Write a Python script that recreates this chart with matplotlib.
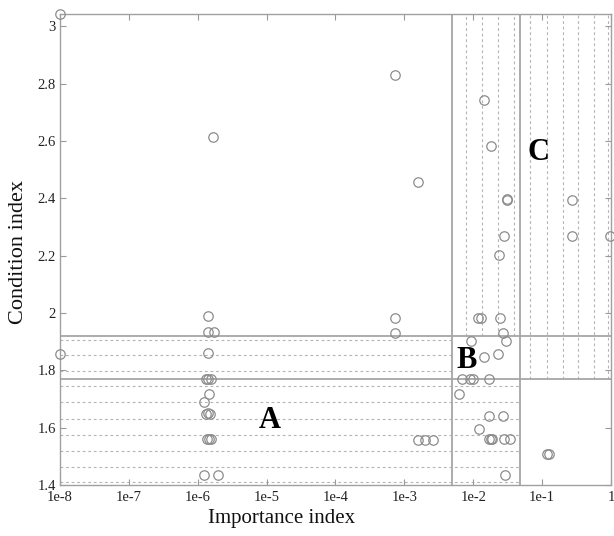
import numpy as np
import matplotlib
matplotlib.use('Agg')
import matplotlib.pyplot as plt

plt.rcParams['font.family'] = ['Liberation Serif', 'DejaVu Serif']

# data ------------------------------------------------------------------------------------------
importance = [1e-8, 1e-8, 1.65e-6,
              1.42e-6, 1.42e-6, 1.74e-6, 1.42e-6, 1.30e-6, 1.42e-6, 1.58e-6, 1.47e-6, 1.25e-6,
              1.33e-6, 1.42e-6, 1.50e-6, 1.36e-6, 1.47e-6, 1.55e-6, 1.25e-6, 1.99e-6,
              7.38e-4, 7.38e-4, 7.38e-4, 1.56e-3, 1.56e-3, 2.0e-3, 2.58e-3,
              0.01445, 0.0181, 0.0306, 0.0310, 0.0277, 0.0234, 0.272, 0.272, 0.966,
              0.01183, 0.01282, 0.0244, 0.0273, 0.0296, 0.00918, 0.0231, 0.01445,
              0.00679, 0.00897, 0.00982, 0.01694, 0.00626, 0.01694, 0.0273, 0.01225,
              0.01694, 0.0181, 0.0189, 0.0282, 0.0342, 0.0289, 0.1164, 0.127]
condition = [3.043, 1.858, 2.614,
             1.988, 1.933, 1.933, 1.862, 1.771, 1.771, 1.771, 1.719, 1.690,
             1.649, 1.652, 1.649, 1.562, 1.562, 1.562, 1.435, 1.435,
             2.830, 1.983, 1.932, 2.458, 1.557, 1.557, 1.557,
             2.744, 2.584, 2.396, 2.398, 2.267, 2.201, 2.396, 2.267, 2.267,
             1.983, 1.983, 1.983, 1.931, 1.901, 1.901, 1.858, 1.846,
             1.771, 1.771, 1.771, 1.771, 1.717, 1.641, 1.641, 1.595,
             1.559, 1.559, 1.559, 1.559, 1.559, 1.435, 1.508, 1.508]

# thresholds and hatch lines
imp_lo, imp_hi = 0.0049, 0.047
cond_lo, cond_hi = 1.77, 1.92
hatch_y_short = [1.907, 1.853, 1.798]                      # x from 1e-8 to imp_lo
hatch_y_long = [1.744, 1.688, 1.632, 1.576, 1.518, 1.464, 1.411]   # x from 1e-8 to imp_hi
hatch_x_short = [10**e for e in [-2.102, -1.875, -1.641, -1.413]]      # y from cond_hi up
hatch_x_long = [10**e for e in [-1.179, -0.936, -0.703, -0.475, -0.246, -0.038]]  # y from cond_lo up

xticks = [1e-8, 1e-7, 1e-6, 1e-5, 1e-4, 1e-3, 1e-2, 1e-1, 1]
xticklabels = ['1e-8', '1e-7', '1e-6', '1e-5', '1e-4', '1e-3', '1e-2', '1e-1', '1']
yticks = [1.4, 1.6, 1.8, 2.0, 2.2, 2.4, 2.6, 2.8, 3.0]
xmin, xmax = 1e-8, 1
ymin, ymax = 1.4, 3.043

# figure ----------------------------------------------------------------------------------------
fig = plt.figure(figsize=(6.14, 5.36), dpi=100)
ax = fig.add_axes([0.0977, 0.0951, 0.8974, 0.8787])
ax.set_xscale('log')
ax.set_xlim(xmin, xmax)
ax.set_ylim(ymin, ymax)

solid = dict(color='#a6a6a6', lw=1.3, zorder=2)
dash = dict(color='#b4b4b4', lw=0.8, ls=(0, (2.5, 2.5)), zorder=1)

for y in hatch_y_short:
    ax.plot([xmin, imp_lo], [y, y], **dash)
for y in hatch_y_long:
    ax.plot([xmin, imp_hi], [y, y], **dash)
for x in hatch_x_short:
    ax.plot([x, x], [cond_hi, ymax], **dash)
for x in hatch_x_long:
    ax.plot([x, x], [cond_lo, ymax], **dash)

ax.axhline(cond_lo, **solid)
ax.axhline(cond_hi, **solid)
ax.axvline(imp_lo, **solid)
ax.axvline(imp_hi, **solid)

ax.plot(importance, condition, 'o', ms=6.8, mfc='none', mec='#8c8c8c', mew=0.9,
        clip_on=False, zorder=3)

# region letters
ax.text(1.12e-5, 1.626, 'A', fontsize=22, fontweight='bold', ha='center', va='center')
ax.text(0.00803, 1.835, 'B', fontsize=22, fontweight='bold', ha='center', va='center')
ax.text(0.0881, 2.559, 'C', fontsize=22, fontweight='bold', ha='center', va='center')

# axes style
ax.set_xticks(xticks)
ax.set_xticklabels(xticklabels)
ax.xaxis.set_minor_locator(matplotlib.ticker.NullLocator())
ax.set_yticks(yticks)
ax.set_yticklabels(['%g' % v for v in yticks])
ax.tick_params(direction='in', length=4, width=0.8, color='#999999', top=True, right=True,
               labelsize=10.5, labelcolor='#222222')
ax.tick_params(axis='x', pad=4)
ax.tick_params(axis='y', pad=3)
for s in ax.spines.values():
    s.set_color('#a0a0a0')
    s.set_linewidth(1.0)

ax.set_xlabel('Importance index', fontsize=15, color='#111111')
ax.xaxis.set_label_coords(0.403, -0.0805)
ax.xaxis.label.set_va('baseline')
ax.set_ylabel('Condition index', fontsize=16, color='#111111')
ax.yaxis.set_label_coords(-0.076, 0.495)
ax.yaxis.label.set_va('center')

fig.savefig('out.png', dpi=100)
